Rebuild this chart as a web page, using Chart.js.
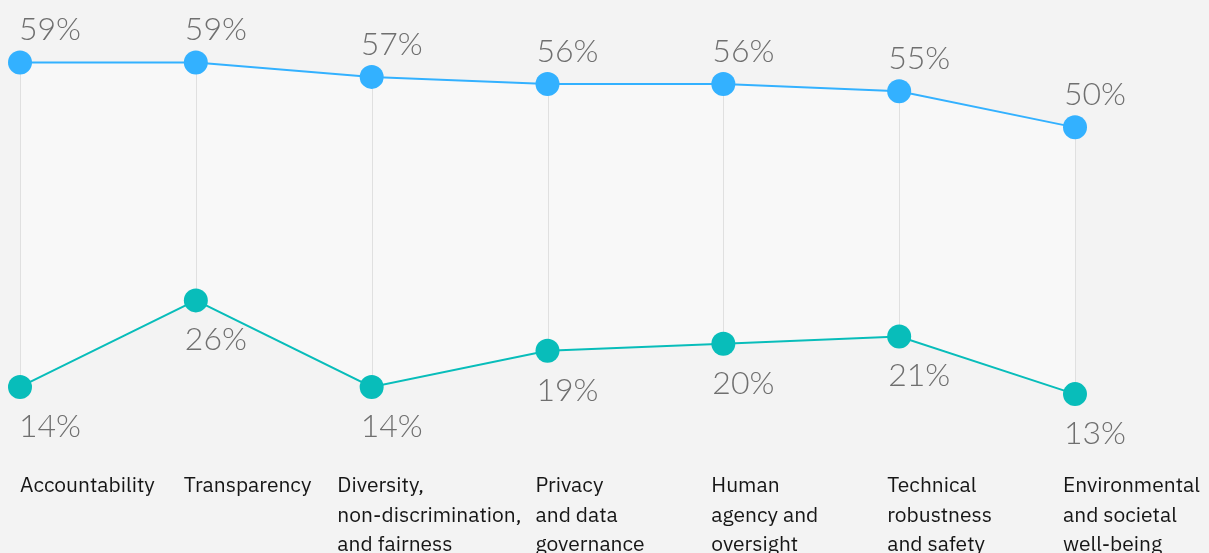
<!DOCTYPE html>
<html>
<head>
<meta charset="utf-8">
<script src="https://cdn.jsdelivr.net/npm/chart.js@4/dist/chart.umd.min.js"></script>
<style>
  html, body { margin: 0; padding: 0; background: #f3f3f3; }
  #wrap { width: 1209px; height: 553px; position: relative; }
</style>
</head>
<body>
<div id="wrap"><canvas id="aiChart"></canvas></div>
<script>
// categories (multi-line labels as shown under the chart)
const categories = [
    ["Accountability"],
    ["Transparency"],
    ["Diversity,", "non-discrimination,", "and fairness"],
    ["Privacy", "and data", "governance"],
    ["Human", "agency and", "oversight"],
    ["Technical", "robustness", "and safety"],
    ["Environmental", "and societal", "well-being"]
];
const topSeries = [59, 59, 57, 56, 56, 55, 50];
const bottomSeries = [14, 26, 14, 19, 20, 21, 13];

const blue = "#33b1ff";
const teal = "#08bdba";

// thin vertical connectors between the two points of each category
const connectors = {
    id: "connectors",
    beforeDatasetsDraw(chart) {
        const a = chart.getDatasetMeta(0).data;
        const b = chart.getDatasetMeta(1).data;
        const ctx = chart.ctx;
        ctx.save();
        ctx.strokeStyle = "#e0e0e0";
        ctx.lineWidth = 1;
        a.forEach((pt, i) => {
            const x = Math.round(pt.x) + 0.5;
            ctx.beginPath();
            ctx.moveTo(x, pt.y);
            ctx.lineTo(x, b[i].y);
            ctx.stroke();
        });
        ctx.restore();
    }
};

// percentage labels above the top line and below the bottom line
const valueLabels = {
    id: "valueLabels",
    afterDatasetsDraw(chart) {
        const ctx = chart.ctx;
        ctx.save();
        ctx.font = "300 32px Lato, 'Noto Sans', sans-serif";
        ctx.fillStyle = "#6f6f6f";
        ctx.textAlign = "left";
        ctx.textBaseline = "alphabetic";
        chart.data.datasets.forEach((ds, d) => {
            chart.getDatasetMeta(d).data.forEach((pt, i) => {
                const x = Math.max(pt.x - 11, 19);
                const y = d === 0 ? pt.y - 22 : pt.y + 50;
                ctx.fillText(ds.data[i] + "%", x, y);
            });
        });
        ctx.restore();
    }
};

// category labels under each tick, left aligned, pushed left if they would collide
const categoryLabels = {
    id: "categoryLabels",
    afterDraw(chart) {
        const ctx = chart.ctx;
        const xScale = chart.scales.x;
        const lineH = 29.5;
        ctx.save();
        ctx.font = "21px 'IBM Plex Sans', 'Noto Sans', sans-serif";
        ctx.fillStyle = "#161616";
        ctx.textAlign = "left";
        ctx.textBaseline = "alphabetic";
        const widths = categories.map(lines => Math.max(...lines.map(l => ctx.measureText(l).width)));
        const xs = [];
        for (let i = categories.length - 1; i >= 0; i--) {
            let x = xScale.getPixelForTick(i) - 12;
            if (i < categories.length - 1) x = Math.min(x, xs[i + 1] - widths[i] - 14);
            xs[i] = x;
        }
        xs[0] = Math.max(xs[0], chart.chartArea.left);
        const base = chart.chartArea.bottom + 33;
        categories.forEach((lines, i) => {
            lines.forEach((line, j) => ctx.fillText(line, xs[i], base + j * lineH));
        });
        ctx.restore();
    }
};

new Chart(document.getElementById("aiChart"), {
    type: "line",
    data: {
        labels: categories,
        datasets: [
            {
                data: topSeries,
                borderColor: blue,
                backgroundColor: "rgba(255,255,255,0.45)",
                pointBackgroundColor: blue,
                fill: "+1"
            },
            {
                data: bottomSeries,
                borderColor: teal,
                pointBackgroundColor: teal,
                fill: false
            }
        ]
    },
    options: {
        responsive: true,
        maintainAspectRatio: false,
        animation: false,
        layout: { padding: { left: 20, right: 134, top: 9, bottom: 94 } },
        elements: {
            line: { borderWidth: 2, tension: 0 },
            point: { radius: 12, borderWidth: 0, hoverRadius: 12 }
        },
        plugins: {
            legend: { display: false },
            tooltip: { enabled: false },
            filler: { drawTime: "beforeDatasetsDraw" }
        },
        scales: {
            x: {
                offset: false,
                grid: { display: false, drawTicks: false },
                border: { display: false },
                ticks: { display: false }
            },
            y: {
                display: false,
                min: 4,
                max: 66
            }
        }
    },
    plugins: [connectors, valueLabels, categoryLabels]
});
</script>
</body>
</html>
